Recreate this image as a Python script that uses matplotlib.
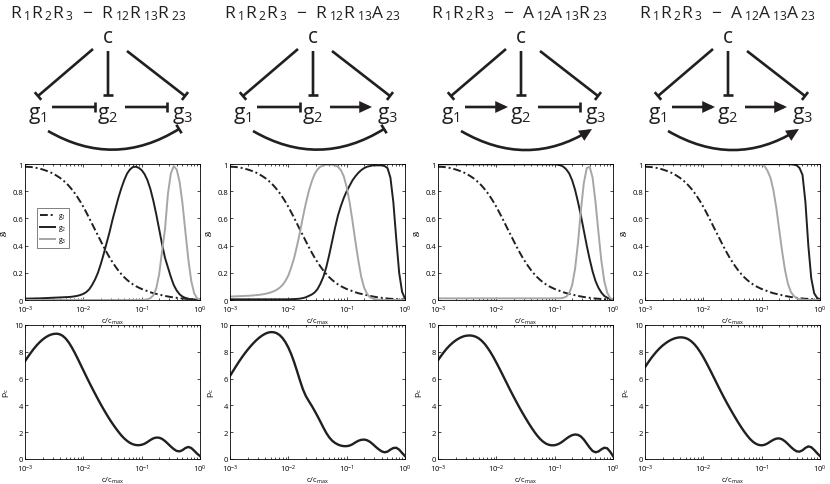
import matplotlib
matplotlib.use("Agg")
import matplotlib.pyplot as plt
from matplotlib.patches import FancyArrowPatch
import numpy as np

plt.rcParams["font.family"] = ["Open Sans", "DejaVu Sans"]
plt.rcParams["mathtext.default"] = "regular"

W, H = 830, 485

# sample points, log10(c/c_max)
LOG_X = np.linspace(-3.0, 0.0, 61)

TITLES = [
    r"$R\,{}_1R\,{}_2R\,{}_3\ -\ R\,{}_{12}R\,{}_{13}R\,{}_{23}$",
    r"$R\,{}_1R\,{}_2R\,{}_3\ -\ R\,{}_{12}R\,{}_{13}A\,{}_{23}$",
    r"$R\,{}_1R\,{}_2R\,{}_3\ -\ A\,{}_{12}A\,{}_{13}R\,{}_{23}$",
    r"$R\,{}_1R\,{}_2R\,{}_3\ -\ A\,{}_{12}A\,{}_{13}A\,{}_{23}$",
]
# link types: (g1->g2, g2->g3, g1->g3); "R" repression, "A" activation
LINKS = [("R", "R", "R"), ("R", "A", "R"), ("A", "R", "A"), ("A", "A", "A")]

# g1 (same in all four networks)
G1 = [0.980, 0.979, 0.978, 0.975, 0.971, 0.966, 0.960, 0.953, 0.945, 0.936,
      0.925, 0.912, 0.898, 0.881, 0.862, 0.840, 0.815, 0.787, 0.756, 0.722,
      0.685, 0.645, 0.603, 0.560, 0.517, 0.475, 0.432, 0.390, 0.350, 0.312,
      0.278, 0.246, 0.217, 0.191, 0.168, 0.148, 0.130, 0.115, 0.102, 0.091,
      0.081, 0.073, 0.065, 0.057, 0.050, 0.045, 0.040, 0.035, 0.030, 0.026,
      0.022, 0.019, 0.016, 0.013, 0.011, 0.009, 0.008, 0.006, 0.005, 0.004,
      0.003]

G2_RRR = [0.010, 0.010, 0.011, 0.011, 0.012, 0.012, 0.013, 0.014, 0.015, 0.016,
          0.017, 0.018, 0.019, 0.020, 0.021, 0.022, 0.024, 0.027, 0.031, 0.037,
          0.045, 0.058, 0.078, 0.110, 0.150, 0.200, 0.265, 0.340, 0.420, 0.500,
          0.590, 0.670, 0.750, 0.820, 0.880, 0.930, 0.960, 0.978, 0.980, 0.972,
          0.955, 0.925, 0.880, 0.815, 0.730, 0.630, 0.520, 0.410, 0.310, 0.240,
          0.170, 0.110, 0.070, 0.042, 0.025, 0.015, 0.009, 0.005, 0.003, 0.001,
          0.000]
G3_RRR = [0.0] * 40 + [
          0.000, 0.002, 0.005, 0.013, 0.035, 0.085, 0.190, 0.360, 0.520, 0.780,
          0.930, 0.985, 0.960, 0.870, 0.710, 0.500, 0.300, 0.140, 0.050, 0.012,
          0.000]

G2_RRA = [0.005] * 20 + [
          0.005, 0.006, 0.007, 0.008, 0.010, 0.014, 0.020, 0.030, 0.040, 0.055,
          0.080, 0.120, 0.170, 0.240, 0.330, 0.430, 0.530, 0.620, 0.690, 0.750,
          0.800, 0.840, 0.880, 0.910, 0.935, 0.955, 0.970, 0.980, 0.985, 0.990,
          0.990, 0.990, 0.990, 0.985, 0.970, 0.900, 0.720, 0.450, 0.200, 0.060,
          0.010]
G3_RRA = [0.025, 0.026, 0.027, 0.028, 0.029, 0.030, 0.031, 0.032, 0.034, 0.036,
          0.038, 0.041, 0.045, 0.050, 0.056, 0.064, 0.075, 0.090, 0.110, 0.140,
          0.180, 0.240, 0.310, 0.400, 0.500, 0.610, 0.710, 0.800, 0.870, 0.925,
          0.960, 0.980, 0.990, 0.995, 0.995, 0.995, 0.990, 0.980, 0.955, 0.910,
          0.830, 0.720, 0.580, 0.430, 0.290, 0.170, 0.090, 0.045, 0.020, 0.010,
          0.005, 0.002, 0.0, 0.0, 0.0, 0.0, 0.0, 0.0, 0.0, 0.0,
          0.0]

G2_AAR = [0.998] * 41 + [
          0.995, 0.990, 0.980, 0.960, 0.930, 0.880, 0.810, 0.720, 0.620, 0.510,
          0.400, 0.300, 0.210, 0.140, 0.090, 0.055, 0.030, 0.017, 0.008, 0.003]
G3_AAR = [0.012] * 41 + [
          0.012, 0.013, 0.016, 0.025, 0.050, 0.110, 0.230, 0.420, 0.660, 0.860,
          0.970, 0.980, 0.900, 0.720, 0.500, 0.290, 0.140, 0.055, 0.015, 0.003]

G2_AAA = [0.999] * 50 + [
          0.998, 0.995, 0.990, 0.970, 0.920, 0.720, 0.400, 0.160, 0.050, 0.015,
          0.005]
G3_AAA = [0.999] * 39 + [
          0.998, 0.995, 0.985, 0.950, 0.900, 0.810, 0.680, 0.520, 0.360, 0.220,
          0.120, 0.060, 0.030, 0.013, 0.006, 0.003, 0.001, 0.0, 0.0, 0.0,
          0.0, 0.0]

P_RRR = [7.30, 7.62, 7.93, 8.22, 8.48, 8.71, 8.91, 9.07, 9.20, 9.29,
         9.34, 9.35, 9.30, 9.18, 8.98, 8.70, 8.35, 7.95, 7.52, 7.07,
         6.62, 6.17, 5.73, 5.30, 4.88, 4.47, 4.07, 3.69, 3.32, 2.97,
         2.64, 2.33, 2.04, 1.77, 1.54, 1.35, 1.20, 1.10, 1.04, 1.03,
         1.06, 1.14, 1.27, 1.42, 1.54, 1.60, 1.59, 1.50, 1.34, 1.14,
         0.93, 0.74, 0.60, 0.57, 0.66, 0.82, 0.90, 0.82, 0.62, 0.40,
         0.22]
P_RRA = [6.20, 6.55, 6.90, 7.24, 7.56, 7.86, 8.14, 8.40, 8.64, 8.86,
         9.05, 9.21, 9.34, 9.43, 9.47, 9.46, 9.39, 9.25, 9.03, 8.72,
         8.32, 7.82, 7.22, 6.55, 5.85, 5.20, 4.70, 4.33, 3.98, 3.60,
         3.20, 2.78, 2.35, 1.95, 1.62, 1.37, 1.20, 1.08, 1.00, 0.96,
         0.96, 1.00, 1.10, 1.24, 1.36, 1.43, 1.45, 1.40, 1.28, 1.10,
         0.90, 0.72, 0.57, 0.50, 0.55, 0.70, 0.82, 0.84, 0.70, 0.45,
         0.22]
P_AAR = [7.37, 7.68, 7.97, 8.24, 8.47, 8.67, 8.84, 8.98, 9.09, 9.17,
         9.21, 9.22, 9.19, 9.12, 9.00, 8.82, 8.59, 8.30, 7.97, 7.60,
         7.20, 6.78, 6.35, 5.91, 5.47, 5.04, 4.62, 4.21, 3.81, 3.43,
         3.06, 2.70, 2.36, 2.04, 1.75, 1.50, 1.30, 1.15, 1.06, 1.02,
         1.03, 1.09, 1.20, 1.35, 1.52, 1.67, 1.78, 1.83, 1.80, 1.68,
         1.45, 1.15, 0.85, 0.60, 0.50, 0.56, 0.72, 0.84, 0.80, 0.55,
         0.22]
P_AAA = [6.85, 7.18, 7.49, 7.77, 8.03, 8.26, 8.46, 8.63, 8.78, 8.90,
         8.99, 9.05, 9.08, 9.07, 9.02, 8.92, 8.76, 8.55, 8.28, 7.96,
         7.60, 7.20, 6.78, 6.35, 5.91, 5.47, 5.04, 4.62, 4.21, 3.82,
         3.44, 3.07, 2.71, 2.37, 2.05, 1.76, 1.50, 1.29, 1.14, 1.05,
         1.02, 1.06, 1.16, 1.30, 1.43, 1.52, 1.54, 1.47, 1.32, 1.12,
         0.90, 0.71, 0.57, 0.55, 0.65, 0.83, 0.94, 0.88, 0.68, 0.44,
         0.22]

G2 = [G2_RRR, G2_RRA, G2_AAR, G2_AAA]
G3 = [G3_RRR, G3_RRA, G3_AAR, G3_AAA]
PC = [P_RRR, P_RRA, P_AAR, P_AAA]

COL_LEFT = [25, 230, 438, 645]   # px
TITLE_X = [98, 312, 519, 728]
AX_W = 175
DARK = "#231f20"
GREY = "#a6a6a6"

fig = plt.figure(figsize=(W / 100, H / 100), dpi=100)

# overlay for the network sketches
ov = fig.add_axes([0, 0, 1, 1])
ov.set_xlim(0, W)
ov.set_ylim(H, 0)
ov.axis("off")


def link(p0, p1, kind, rad=0.0):
    if kind == "R":
        style = "-[, widthB=0.36, lengthB=0"
    else:
        style = "-|>, head_length=0.6, head_width=0.28"
    ov.add_patch(FancyArrowPatch(p0, p1, arrowstyle=style, mutation_scale=10,
                                 connectionstyle=f"arc3,rad={rad}",
                                 color=DARK, lw=1.9, shrinkA=0, shrinkB=0,
                                 joinstyle="miter", capstyle="butt"))


for k in range(4):
    L = COL_LEFT[k]
    cx, g1x, g2x, g3x = L + 83, L + 12, L + 83, L + 158
    ov.text(TITLE_X[k], 18, TITLES[k], fontsize=12.5, ha="center",
            va="baseline", color=DARK)
    ov.text(cx, 43, "c", fontsize=15, ha="center", va="baseline", color=DARK)
    for xx, lab in [(g1x, "$g_1$"), (g2x, "$g_2$"), (g3x, "$g_3$")]:
        ov.text(xx, 119, lab, fontsize=15, ha="center", va="baseline",
                color=DARK)
    link((cx - 15, 50), (g1x + 1, 97), "R")
    link((cx, 52), (cx, 96), "R")
    link((cx + 19, 52), (g3x + 2, 97), "R")
    a12, a23, a13 = LINKS[k]
    link((g1x + 15, 108), (g2x - 13, 108), a12)
    link((g2x + 17, 108), (g3x - 16, 108), a23)
    link((g1x + 11, 132), (g3x - 4, 130), a13, rad=0.3)

x = 10 ** LOG_X


def style_axes(ax):
    ax.set_xscale("log")
    ax.set_xlim(1e-3, 1)
    ax.set_xticks([1e-3, 1e-2, 1e-1, 1])
    ax.tick_params(which="both", direction="in", top=True, right=True,
                   labelsize=5.5, width=0.5)
    ax.tick_params(axis="x", pad=3)
    ax.tick_params(axis="y", pad=1.5)
    ax.tick_params(which="major", length=2.5)
    ax.tick_params(which="minor", length=1.5)
    for s in ax.spines.values():
        s.set_linewidth(0.6)
    ax.set_xlabel("$c/c_{max}$", fontsize=5.5, labelpad=0)


for k in range(4):
    L = COL_LEFT[k]
    ax = fig.add_axes([L / W, 1 - 301 / H, AX_W / W, 136 / H])
    ax.plot(x, G1, color=DARK, lw=1.4, dashes=[4, 1.5, 1, 1.5], label="$g_1$")
    ax.plot(x, G2[k], color=DARK, lw=1.4, label="$g_2$")
    ax.plot(x, G3[k], color=GREY, lw=1.4, label="$g_3$")
    style_axes(ax)
    ax.set_ylim(0, 1)
    ax.set_yticks([0, 0.2, 0.4, 0.6, 0.8, 1])
    ax.set_yticklabels(["0", "0.2", "0.4", "0.6", "0.8", "1"])
    ax.set_ylabel("$g_i$", fontsize=6, labelpad=2)
    if k == 0:
        leg = ax.legend(loc="upper left", bbox_to_anchor=(0.05, 0.70),
                        fontsize=5, handlelength=2.2, frameon=True,
                        fancybox=False, borderpad=0.4, labelspacing=0.3,
                        handletextpad=0.4)
        leg.get_frame().set_edgecolor(DARK)
        leg.get_frame().set_linewidth(0.5)

    bx = fig.add_axes([L / W, 1 - 460 / H, AX_W / W, 134 / H])
    bx.plot(x, PC[k], color=DARK, lw=1.7)
    style_axes(bx)
    bx.set_ylim(0, 10)
    bx.set_yticks([0, 2, 4, 6, 8, 10])
    bx.set_ylabel("$p_c$", fontsize=6, labelpad=2)

fig.savefig("out.png", dpi=100)
